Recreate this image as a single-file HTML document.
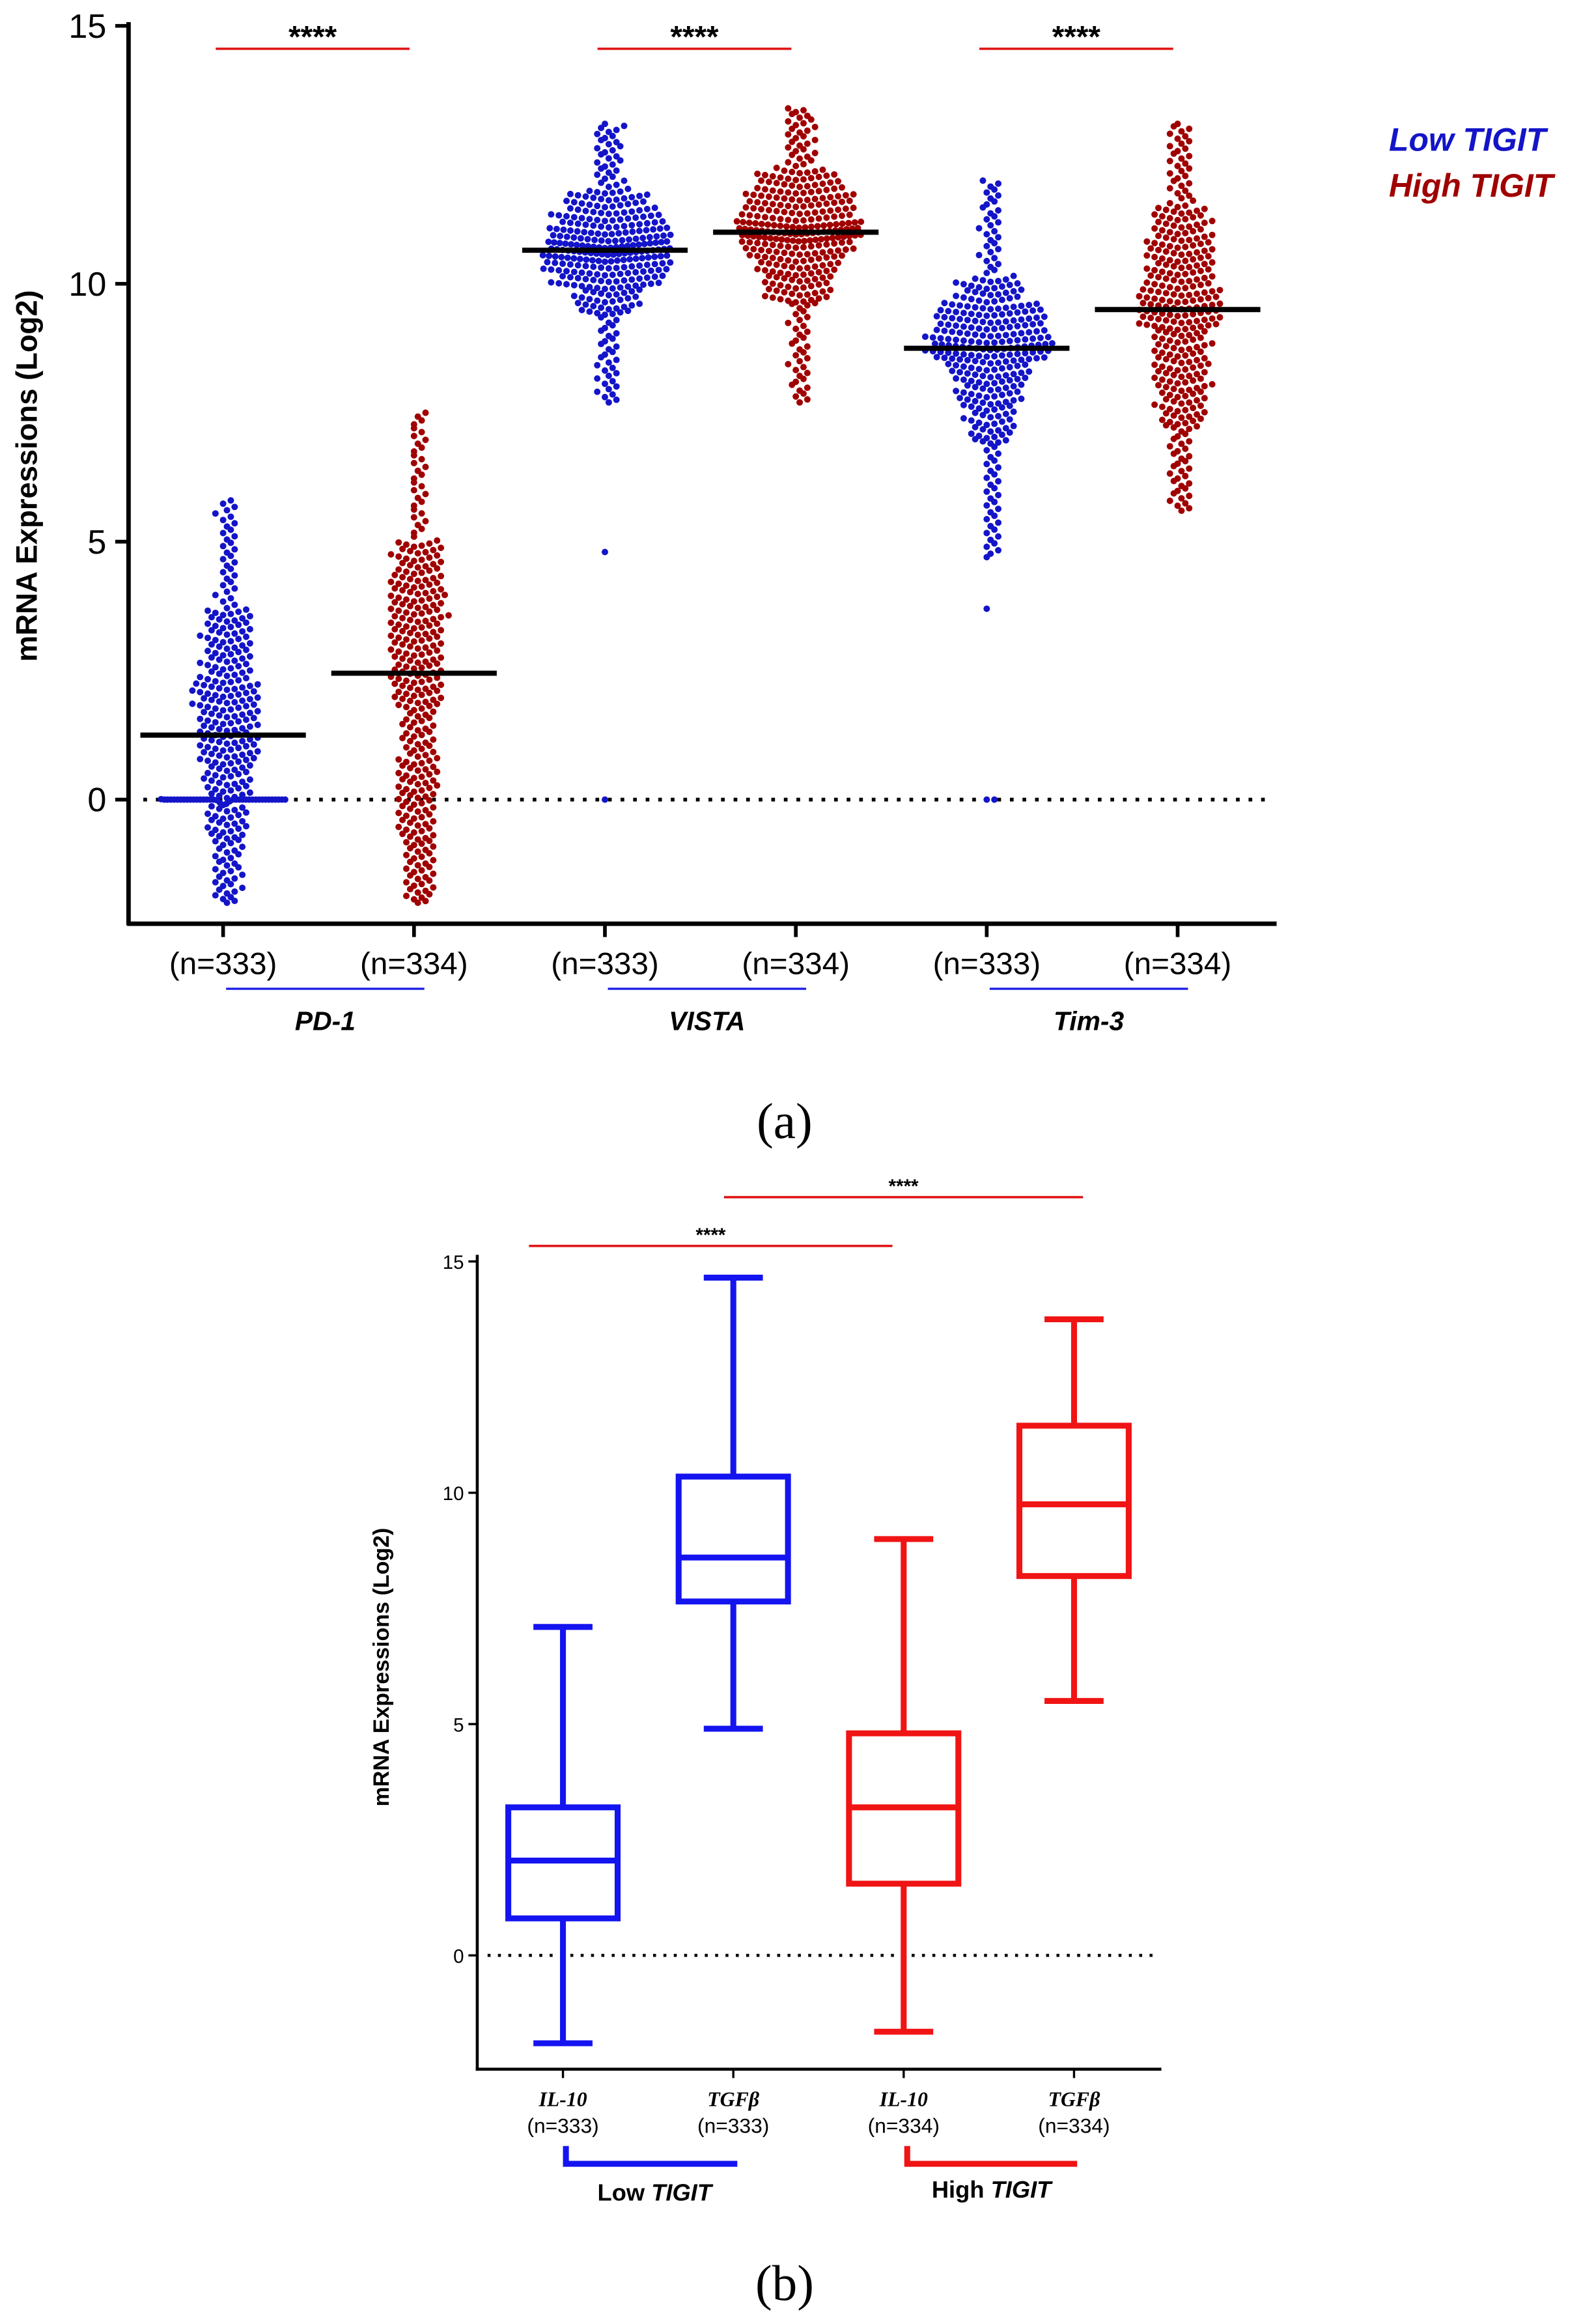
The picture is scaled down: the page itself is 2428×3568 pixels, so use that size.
<!DOCTYPE html>
<html><head><meta charset="utf-8"><style>
html,body{margin:0;padding:0;background:#fff}
svg{display:block;font-family:"Liberation Sans",sans-serif}
</style></head><body>
<svg id="chart" width="2428" height="3568" viewBox="0 0 1070 1572.4" preserveAspectRatio="none" xmlns="http://www.w3.org/2000/svg">
<g id="pa"></g>
<g id="pb"></g>
</svg>
<script>
// ---------- Panel A data ----------
const groupsA = ["PD-1 low","PD-1 high","VISTA low","VISTA high","Tim-3 low","Tim-3 high"];
const countsA = [333,334,333,334,333,334];
const mediansA = [1.25,2.45,10.65,11.0,8.75,9.5];
const quantilesA = [
 [-2.0,-0.8,0,0,0.7,1.25,1.8,2.3,3.0,3.7,5.8],
 [-2.0,-0.9,0,0.8,1.8,2.45,3.1,3.7,4.3,5.0,7.5],
 [7.7,9.4,9.9,10.2,10.45,10.65,10.85,11.1,11.4,11.8,13.1],
 [7.7,9.6,10.1,10.5,10.8,11.0,11.2,11.5,11.8,12.2,13.4],
 [4.7,6.9,7.6,8.1,8.5,8.75,9.0,9.3,9.6,10.1,12.0],
 [5.6,7.2,7.9,8.5,9.1,9.5,9.9,10.4,10.9,11.5,13.1]
];
const outliersA = [[],[],[0,4.8],[],[0,0,3.7],[]];
const nLabelsA = ["(n=333)","(n=334)","(n=333)","(n=334)","(n=333)","(n=334)"];
const categoriesA = ["PD-1","VISTA","Tim-3"];
const yTicksA = [0,5,10,15];

// ---------- Panel B data ----------
const groupsB = ["IL-10","TGFβ","IL-10","TGFβ"];
const nLabelsB = ["(n=333)","(n=333)","(n=334)","(n=334)"];
const whiskerLowB = [-1.9,4.9,-1.65,5.5];
const q1B = [0.8,7.65,1.55,8.2];
const medianB = [2.05,8.6,3.2,9.75];
const q3B = [3.2,10.35,4.8,11.45];
const whiskerHighB = [7.1,14.65,9.0,13.75];
const yTicksB = [0,5,10,15];

const NS="http://www.w3.org/2000/svg";
function mk(parent,tag,attrs,txt){const e=document.createElementNS(NS,tag);for(const k in attrs)e.setAttribute(k,attrs[k]);if(txt!==undefined)e.textContent=txt;parent.appendChild(e);return e;}
const SERIF='font-family:"Liberation Serif",serif';

// ---------- Panel A ----------
const pa=document.getElementById('pa');
const yA=v=>541-v*34.9;
const xA=i=>151+i*129.2;
const colorsA=["#1414c8","#a00000"];
let e;
e=mk(pa,'line',{x1:87,y1:15,x2:87,y2:626,stroke:'#000','stroke-width':3});

e=mk(pa,'line',{x1:86,y1:625,x2:864,y2:625,stroke:'#000','stroke-width':3});

yTicksA.forEach(t=>{
 e=mk(pa,'line',{x1:78,y1:yA(t),x2:87,y2:yA(t),stroke:'#000','stroke-width':2.5});
 
 e=mk(pa,'text',{x:72,y:yA(t)+8,'text-anchor':'end','font-size':23},String(t));
 
});
e=mk(pa,'line',{x1:97,y1:yA(0),x2:856,y2:yA(0),stroke:'#000','stroke-width':2.5,'stroke-dasharray':'2.5,6'});

e=mk(pa,'text',{x:0,y:0,'text-anchor':'middle','font-size':20,'font-weight':'bold',transform:'translate(25,322) rotate(-90)'},'mRNA Expressions (Log2)');


groupsA.forEach((g,i)=>{
 const cx=xA(i);
 const q=quantilesA[i];
 const n=countsA[i]-outliersA[i].length;
 const vals=[];
 for(let k=0;k<n;k++){const p=k/(n-1)*10;const lo=Math.floor(p),hi=Math.min(10,lo+1);const f=p-lo;vals.push(q[lo]+(q[hi]-q[lo])*f);}
 outliersA[i].forEach(v=>vals.push(v));
 const bins={};
 vals.forEach(v=>{const b=Math.round(yA(v)/4.6);(bins[b]=bins[b]||[]).push(v);});
 const grp=mk(pa,'g',{});
 
 
 Object.keys(bins).forEach(b=>{
  const arr=bins[b];
  const m=arr.length;
  let sp=5.2;
  const half=Math.ceil((m-1)/2);
  if(half*sp>42) sp=42/half;
  arr.forEach((v,k)=>{
   const off=(k===0?0:(Math.ceil(k/2)*(k%2?1:-1)))*sp+((b%2)&&m>1?sp/2:0);
   const d=mk(grp,'circle',{cx:cx+off,cy:yA(v),r:2.2,fill:colorsA[i%2]});
   
   
  });
 });
 e=mk(pa,'line',{x1:cx-56,y1:yA(mediansA[i]),x2:cx+56,y2:yA(mediansA[i]),stroke:'#000','stroke-width':3.5});
 
 e=mk(pa,'line',{x1:cx,y1:625,x2:cx,y2:634,stroke:'#000','stroke-width':2.5});
 
 e=mk(pa,'text',{x:cx,y:659,'text-anchor':'middle','font-size':21},nLabelsA[i]);
 
});
categoriesA.forEach((c,j)=>{
 const l=xA(2*j)+2,r=xA(2*j+1)+7;
 e=mk(pa,'line',{x1:l,y1:669,x2:r,y2:669,stroke:'#1e1ee6','stroke-width':1.5});
 
 e=mk(pa,'text',{x:(l+r)/2,y:697,'text-anchor':'middle','font-size':18,'font-weight':'bold','font-style':'italic'},c);
 
 const sl=xA(2*j)-5,sr=xA(2*j+1)-3;
 e=mk(pa,'line',{x1:sl,y1:33,x2:sr,y2:33,stroke:'#e01010','stroke-width':1.5});
 
 e=mk(pa,'text',{x:(sl+sr)/2,y:32,'text-anchor':'middle','font-size':21,'font-weight':'bold'},'****');
 
});
e=mk(pa,'text',{x:940,y:102,'font-size':22,'font-weight':'bold','font-style':'italic',fill:'#1414c8'},'Low TIGIT');

e=mk(pa,'text',{x:940,y:133,'font-size':22,'font-weight':'bold','font-style':'italic',fill:'#a00000'},'High TIGIT');

e=mk(pa,'text',{x:531,y:770,'text-anchor':'middle','font-size':34,style:SERIF},'(a)');


// ---------- Panel B ----------
const pb=document.getElementById('pb');
const yB=v=>1323-v*31.3;
const xB=i=>381+i*115.3;
const colB=["#1414f0","#1414f0","#f01414","#f01414"];
e=mk(pb,'line',{x1:323,y1:849,x2:323,y2:1401,stroke:'#000','stroke-width':2});

e=mk(pb,'line',{x1:322,y1:1400,x2:786,y2:1400,stroke:'#000','stroke-width':2});

yTicksB.forEach(t=>{
 e=mk(pb,'line',{x1:317,y1:yB(t),x2:323,y2:yB(t),stroke:'#000','stroke-width':1.5});
 
 e=mk(pb,'text',{x:314,y:yB(t)+5,'text-anchor':'end','font-size':13},String(t));
 
});
e=mk(pb,'line',{x1:330,y1:yB(0),x2:780,y2:yB(0),stroke:'#000','stroke-width':2,'stroke-dasharray':'2,5'});

e=mk(pb,'text',{x:0,y:0,'text-anchor':'middle','font-size':15,'font-weight':'bold',transform:'translate(263,1128) rotate(-90)'},'mRNA Expressions (Log2)');

groupsB.forEach((g,i)=>{
 const cx=xB(i),c=colB[i];
 const grp=mk(pb,'g',{stroke:c,'stroke-width':4,fill:'none'});
 
 
 mk(grp,'line',{x1:cx,y1:yB(whiskerLowB[i]),x2:cx,y2:yB(q1B[i])});
 mk(grp,'line',{x1:cx,y1:yB(q3B[i]),x2:cx,y2:yB(whiskerHighB[i])});
 mk(grp,'line',{x1:cx-20,y1:yB(whiskerLowB[i]),x2:cx+20,y2:yB(whiskerLowB[i])});
 mk(grp,'line',{x1:cx-20,y1:yB(whiskerHighB[i]),x2:cx+20,y2:yB(whiskerHighB[i])});
 mk(grp,'rect',{x:cx-37,y:yB(q3B[i]),width:74,height:yB(q1B[i])-yB(q3B[i])});
 mk(grp,'line',{x1:cx-37,y1:yB(medianB[i]),x2:cx+37,y2:yB(medianB[i])});
 e=mk(pb,'line',{x1:cx,y1:1400,x2:cx,y2:1406,stroke:'#000','stroke-width':1.5});
 
 e=mk(pb,'text',{x:cx,y:1425,'text-anchor':'middle','font-size':14,'font-weight':'bold','font-style':'italic',style:SERIF},g);
 
 e=mk(pb,'text',{x:cx,y:1443,'text-anchor':'middle','font-size':14},nLabelsB[i]);
 
});
[[358,604,843],[490,733,810]].forEach(s=>{
 e=mk(pb,'line',{x1:s[0],y1:s[2],x2:s[1],y2:s[2],stroke:'#e01010','stroke-width':1.5});
 
 e=mk(pb,'text',{x:(s[0]+s[1])/2,y:s[2]-3,'text-anchor':'middle','font-size':13,'font-weight':'bold'},'****');
 
});
e=mk(pb,'path',{d:'M383,1452 V1464 H499',stroke:'#1414f0','stroke-width':4,fill:'none'});

e=mk(pb,'path',{d:'M614,1452 V1464 H729',stroke:'#f01414','stroke-width':4,fill:'none'});

e=mk(pb,'text',{x:443,y:1489,'text-anchor':'middle','font-size':16,'font-weight':'bold'});

e.innerHTML='Low <tspan font-style="italic">TIGIT</tspan>';
e=mk(pb,'text',{x:671,y:1487,'text-anchor':'middle','font-size':16,'font-weight':'bold'});

e.innerHTML='High <tspan font-style="italic">TIGIT</tspan>';
e=mk(pb,'text',{x:531,y:1556,'text-anchor':'middle','font-size':34,style:SERIF},'(b)');

</script>
</body></html>
